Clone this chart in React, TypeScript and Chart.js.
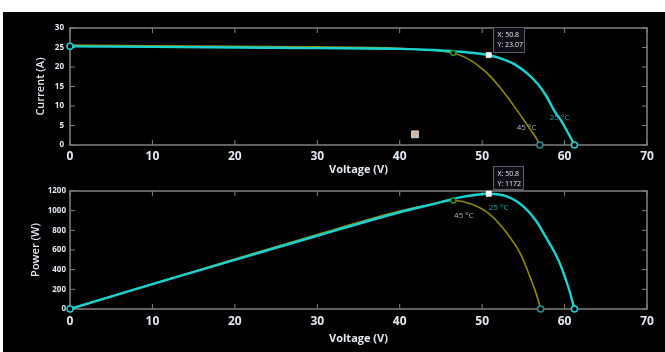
import React, { useEffect, useRef } from 'react';
import { Chart, registerables } from 'chart.js';
Chart.register(...registerables);
Chart.defaults.font.family = "'Open Sans', 'DejaVu Sans', sans-serif";

// ---- data ----
const xTickValues = [0, 10, 20, 30, 40, 50, 60, 70];
const currentTickValues = [0, 5, 10, 15, 20, 25, 30];
const powerTickValues = [0, 200, 400, 600, 800, 1000, 1200];

// I-V, 25 °C
const ivVolt25 = [0, 10, 20, 30, 40, 44, 47, 49, 50.8, 52.5, 54, 55.5, 56.8, 57.8, 58.8, 59.6, 60.4, 61.2];
const ivCurr25 = [25.3, 25.15, 25.0, 24.85, 24.65, 24.35, 23.95, 23.6, 23.07, 22.0, 20.6, 18.3, 15.5, 12.5, 8.6, 6.2, 3.2, 0];
// I-V, 45 °C
const ivVolt45 = [0, 10, 20, 30, 40, 43, 45, 46.5, 47.8, 48.9, 50.0, 51.0, 52.6, 54.2, 55.6, 56.4, 57.0];
const ivCurr45 = [25.6, 25.45, 25.3, 25.15, 24.8, 24.4, 24.05, 23.6, 22.6, 21.3, 19.5, 17.6, 13.6, 9.0, 4.7, 2.3, 0];
// P-V, 25 °C
const pvVolt25 = [0, 10, 20, 30, 40, 44.9, 47.3, 50.8, 53.0, 55.0, 56.6, 57.8, 58.8, 59.5, 60.5, 61.2];
const pvPow25 = [0, 252, 500, 745, 984, 1084, 1135, 1172, 1145, 1043, 890, 720, 575, 449, 211, 0];
// P-V, 45 °C
const pvVolt45 = [0, 10, 20, 30, 40, 43, 46.5, 48.9, 51.0, 53.0, 54.6, 55.8, 56.8, 57.1];
const pvPow45 = [0, 255, 508, 758, 996, 1050, 1104, 1060, 958, 772, 568, 329, 92, 0];

// data tips / markers
const tipVolt = 50.8;
const tipCurr = 23.07;
const tipPow = 1172;
const mppVolt45 = 46.5;
const mppCurr45 = 23.6;
const mppPow45 = 1104;
const strayMarker = { x: 41.85, y: 2.74 };

// curve labels (data coordinates of label's left/middle)
const ivLabels = [
  { text: '25 °C', x: 58.2, y: 6.9, color: '#14a8a8' },
  { text: '45 °C', x: 54.2, y: 4.4, color: '#b4b4b4' },
];
const pvLabels = [
  { text: '25 °C', x: 50.8, y: 1033, color: '#14a8a8' },
  { text: '45 °C', x: 46.6, y: 948, color: '#b4b4b4' },
];

const CYAN = '#19d3d3';
const OLIVE = '#8f8a00';
const TXT = '#e2e9f2';
const FRAME = '#808080';

const pts = (xs: number[], ys: number[]) => xs.map((x, i) => ({ x, y: ys[i] }));

const framePlugin = (xt: number[], yt: number[]) => ({
  id: 'frame',
  beforeDatasetsDraw(chart: any) {
    const { ctx, chartArea: a, scales } = chart;
    ctx.save();
    ctx.strokeStyle = FRAME;
    ctx.lineWidth = 1.5;
    ctx.strokeRect(a.left, a.top, a.right - a.left, a.bottom - a.top);
    ctx.lineWidth = 1;
    ctx.beginPath();
    for (const t of xt) {
      const x = scales.x.getPixelForValue(t);
      ctx.moveTo(x, a.bottom); ctx.lineTo(x, a.bottom - 5);
      ctx.moveTo(x, a.top); ctx.lineTo(x, a.top + 5);
    }
    for (const t of yt) {
      const y = scales.y.getPixelForValue(t);
      ctx.moveTo(a.left, y); ctx.lineTo(a.left + 5, y);
      ctx.moveTo(a.right, y); ctx.lineTo(a.right - 5, y);
    }
    ctx.stroke();
    ctx.restore();
  },
});

const overlayPlugin = (labels: any[], tip: { x: number; y: number; lines: string[]; h: number; w: number }) => ({
  id: 'overlay',
  afterDatasetsDraw(chart: any) {
    const { ctx, scales } = chart;
    ctx.save();
    ctx.font = "8px 'Open Sans'";
    ctx.textBaseline = 'middle';
    ctx.textAlign = 'left';
    for (const l of labels) {
      ctx.fillStyle = l.color;
      ctx.fillText(l.text, scales.x.getPixelForValue(l.x), scales.y.getPixelForValue(l.y));
    }
    const px = scales.x.getPixelForValue(tip.x);
    const py = scales.y.getPixelForValue(tip.y);
    const bx = Math.round(px + 4) + 0.5;
    const by = Math.round(py - 28) + 0.5;
    ctx.fillStyle = '#0e0f16';
    ctx.strokeStyle = '#5c5e6a';
    ctx.lineWidth = 1;
    ctx.fillRect(bx, by, tip.w, tip.h);
    ctx.strokeRect(bx, by, tip.w, tip.h);
    ctx.fillStyle = '#e6e6e6';
    ctx.font = "7px 'Open Sans'";
    tip.lines.forEach((s, i) => ctx.fillText(s, bx + 4, by + 7.5 + i * 9.5));
    ctx.restore();
  },
});

function makeConfig(opts: {
  d25: any[]; d45: any[]; yMax: number; yStep: number; yTitle: string; yTitlePad: number;
  xTitlePad: number; xTickPad: number; yTickPad: number; topPad: number; xAxisH: number;
  start25: any; end25: any; end45: any; mpp45: any; tipPt: any; extra?: any[];
  yt: number[]; labels: any[]; tip: any;
}) {
  const circle = (color: string, data: any[], r = 3) => ({
    type: 'scatter', data, showLine: false, pointRadius: r, pointStyle: 'circle',
    pointBorderColor: color, pointBackgroundColor: '#000', pointBorderWidth: 1.5, clip: false, order: 0,
  });
  const datasets: any[] = [
    { type: 'line', data: opts.d45, borderColor: OLIVE, borderWidth: 1.6, pointRadius: 0, cubicInterpolationMode: 'monotone', fill: false, clip: false, order: 3 },
    { type: 'line', data: opts.d25, borderColor: CYAN, borderWidth: 2.4, pointRadius: 0, cubicInterpolationMode: 'monotone', fill: false, clip: false, order: 2 },
    circle(CYAN, [opts.start25]),
    circle(CYAN, [opts.end25]),
    circle('#249494', [opts.end45]),
    circle('#2e8f2e', [opts.mpp45], 2.5),
    {
      type: 'scatter', data: [opts.tipPt], pointStyle: 'rect', pointRadius: 3.8,
      pointBackgroundColor: '#ffffff', pointBorderColor: '#ffffff', pointBorderWidth: 0.5, clip: false, order: 0,
    },
  ];
  if (opts.extra) {
    datasets.push({
      type: 'scatter', data: opts.extra, pointStyle: 'rect', pointRadius: 4.8,
      pointBackgroundColor: '#cdb6a6', pointBorderColor: '#e3d2c4', pointBorderWidth: 1, clip: false, order: 0,
    });
  }
  return {
    type: 'scatter',
    data: { datasets },
    options: {
      animation: false,
      responsive: false,
      devicePixelRatio: 1,
      events: [],
      layout: { padding: { top: opts.topPad, right: 18, left: 0, bottom: 0 } },
      plugins: { legend: { display: false }, tooltip: { enabled: false } },
      scales: {
        x: {
          type: 'linear', min: 0, max: 70,
          afterFit: (s: any) => { s.height = opts.xAxisH; },
          grid: { display: false, drawTicks: false },
          border: { display: false },
          ticks: { stepSize: 10, color: TXT, padding: opts.xTickPad, font: { size: 12, weight: 'bold' }, callback: (v: any) => String(v) },
          title: { display: true, text: 'Voltage (V)', color: TXT, font: { size: 11, weight: 'bold', lineHeight: 1.2 }, padding: { top: 0, bottom: opts.xTitlePad } },
        },
        y: {
          type: 'linear', min: 0, max: opts.yMax,
          afterFit: (s: any) => { s.width = 70; },
          grid: { display: false, drawTicks: false },
          border: { display: false },
          ticks: { stepSize: opts.yStep, color: TXT, padding: opts.yTickPad, font: { size: 8, weight: 'bold' }, callback: (v: any) => String(v) },
          title: { display: true, text: opts.yTitle, color: TXT, font: { size: 11, weight: '600', lineHeight: 1.2 }, padding: { top: opts.yTitlePad, bottom: 0 } },
        },
      },
    },
    plugins: [framePlugin(xTickValues, opts.yt), overlayPlugin(opts.labels, opts.tip)],
  } as any;
}

export default function App() {
  const topRef = useRef<HTMLCanvasElement>(null);
  const botRef = useRef<HTMLCanvasElement>(null);

  useEffect(() => {
    const c1 = new Chart(topRef.current as HTMLCanvasElement, makeConfig({
      d25: pts(ivVolt25, ivCurr25),
      d45: pts(ivVolt45, ivCurr45),
      yMax: 30, yStep: 5, yTitle: 'Current (A)', yTitlePad: 34.4,
      xTitlePad: 10.4, xTickPad: 4, yTickPad: 6, topPad: 16, xAxisH: 42,
      start25: { x: ivVolt25[0], y: ivCurr25[0] },
      end25: { x: ivVolt25[ivVolt25.length - 1], y: ivCurr25[ivCurr25.length - 1] },
      end45: { x: ivVolt45[ivVolt45.length - 1], y: ivCurr45[ivCurr45.length - 1] },
      mpp45: { x: mppVolt45, y: mppCurr45 },
      tipPt: { x: tipVolt, y: tipCurr },
      extra: [strayMarker],
      yt: currentTickValues,
      labels: ivLabels,
      tip: { x: tipVolt, y: tipCurr, lines: ['X: ' + tipVolt, 'Y: ' + tipCurr], w: 31, h: 25 },
    }));
    const c2 = new Chart(botRef.current as HTMLCanvasElement, makeConfig({
      d25: pts(pvVolt25, pvPow25),
      d45: pts(pvVolt45, pvPow45),
      yMax: 1200, yStep: 200, yTitle: 'Power (W)', yTitlePad: 29,
      xTitlePad: 6.4, xTickPad: 5.5, yTickPad: 4, topPad: 31, xAxisH: 43,
      start25: { x: pvVolt25[0], y: pvPow25[0] },
      end25: { x: pvVolt25[pvVolt25.length - 1], y: pvPow25[pvPow25.length - 1] },
      end45: { x: pvVolt45[pvVolt45.length - 1], y: pvPow45[pvPow45.length - 1] },
      mpp45: { x: mppVolt45, y: mppPow45 },
      tipPt: { x: tipVolt, y: tipPow },
      yt: powerTickValues,
      labels: pvLabels,
      tip: { x: tipVolt, y: tipPow, lines: ['X: ' + tipVolt, 'Y: ' + tipPow], w: 30, h: 23 },
    }));
    return () => { c1.destroy(); c2.destroy(); };
  }, []);

  return (
    <div style={{ position: 'fixed', left: 0, top: 0, width: 665, height: 352, background: '#ffffff', overflow: 'hidden' }}>
      <div style={{ position: 'absolute', left: 3, top: 12, width: 662, height: 340, background: '#000000' }} />
      <canvas ref={topRef} width={665} height={175} style={{ position: 'absolute', left: 0, top: 12, width: 665, height: 175 }} />
      <canvas ref={botRef} width={665} height={192} style={{ position: 'absolute', left: 0, top: 160, width: 665, height: 192 }} />
    </div>
  );
}
